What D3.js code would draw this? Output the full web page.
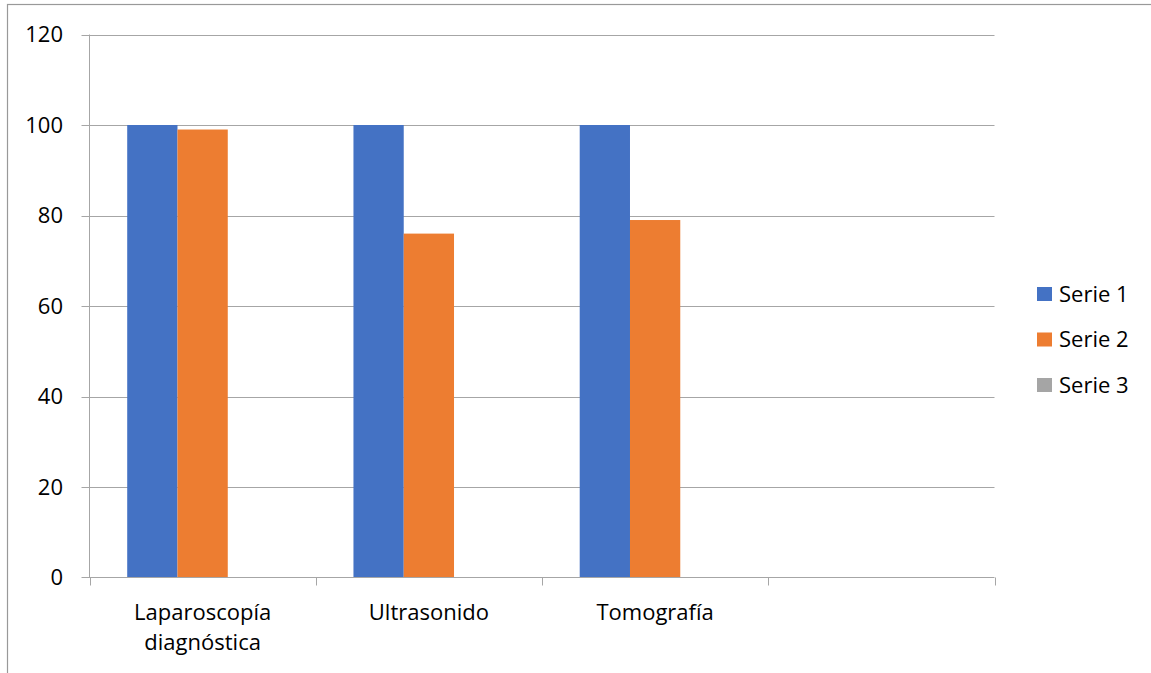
<!DOCTYPE html>
<html>
<head>
<meta charset="utf-8">
<script src="https://cdn.jsdelivr.net/npm/d3@7"></script>
<style>
  html, body { margin: 0; padding: 0; background: #fff; }
  svg { display: block; }
  text { font-family: "Open Sans", "Noto Sans", sans-serif; fill: #000; }
</style>
</head>
<body>
<svg id="chart" width="1151" height="673"></svg>
<script>
const categories = [["Laparoscopía", "diagnóstica"], ["Ultrasonido"], ["Tomografía"], [""]];
const seriesNames = ["Serie 1", "Serie 2", "Serie 3"];
const serie1 = [100, 100, 100, null];
const serie2 = [99, 76, 79, null];
const serie3 = [null, null, null, null];
const yTicks = [0, 20, 40, 60, 80, 100, 120];
const colors = ["#4472c4", "#ed7d31", "#a5a5a5"];

const svg = d3.select("#chart");
const W = 1151, H = 673;
const plotL = 89.5, plotR = 994.5, plotT = 34.5, plotB = 577.5;
const fontSize = 22;

// outer chart frame
svg.append("rect")
  .attr("x", 7.5).attr("y", 4.5)
  .attr("width", W + 10).attr("height", H + 10)
  .attr("fill", "none").attr("stroke", "#999").attr("stroke-width", 1.2);

const catIdx = categories.map((c, i) => i);
const x0 = d3.scaleBand().domain(catIdx).range([plotL, plotR]).paddingInner(0).paddingOuter(0);
const bw = x0.bandwidth() / 4.5;   // gap width 150%
const x1 = d3.scaleBand().domain(seriesNames).range([0.75 * bw, 3.75 * bw]).padding(0);
const y = d3.scaleLinear().domain([0, 120]).range([plotB, plotT]);

// gridlines
svg.append("g").selectAll("line").data(yTicks.filter(t => t > 0)).join("line")
  .attr("x1", plotL - 8).attr("x2", plotR)
  .attr("y1", d => Math.round(y(d)) + 0.5).attr("y2", d => Math.round(y(d)) + 0.5)
  .attr("stroke", "#a6a6a6").attr("stroke-width", 1);

// y axis line
svg.append("line")
  .attr("x1", plotL).attr("x2", plotL).attr("y1", plotT).attr("y2", plotB)
  .attr("stroke", "#a6a6a6");

// y tick labels
svg.append("g").selectAll("text").data(yTicks).join("text")
  .attr("x", 63).attr("y", d => y(d))
  .attr("dy", "0.36em")
  .attr("text-anchor", "end")
  .attr("font-size", fontSize)
  .text(d => d);

// bars
const seriesData = [serie1, serie2, serie3];
seriesData.forEach((vals, s) => {
  svg.append("g").selectAll("rect")
    .data(vals.map((v, i) => ({ i, v })).filter(d => d.v != null))
    .join("rect")
    .attr("x", d => x0(d.i) + x1(seriesNames[s]))
    .attr("width", x1.bandwidth())
    .attr("y", d => y(d.v))
    .attr("height", d => y(0) - y(d.v))
    .attr("fill", colors[s]);
});

// x axis line and ticks
svg.append("line")
  .attr("x1", plotL - 8).attr("x2", plotR).attr("y1", plotB).attr("y2", plotB)
  .attr("stroke", "#a6a6a6");
svg.append("g").selectAll("line").data(d3.range(categories.length + 1)).join("line")
  .attr("x1", d => Math.round(plotL + d * x0.bandwidth()) + 0.5)
  .attr("x2", d => Math.round(plotL + d * x0.bandwidth()) + 0.5)
  .attr("y1", plotB).attr("y2", plotB + 8)
  .attr("stroke", "#a6a6a6");

// category labels
const catG = svg.append("g").selectAll("text").data(catIdx).join("text")
  .attr("x", d => x0(d) + x0.bandwidth() / 2)
  .attr("y", 620)
  .attr("text-anchor", "middle")
  .attr("font-size", fontSize);
catG.selectAll("tspan").data(d => categories[d]).join("tspan")
  .attr("x", function () { return d3.select(this.parentNode).attr("x"); })
  .attr("dy", (d, i) => i === 0 ? 0 : 30)
  .text(d => d);

// legend
const lg = svg.append("g").selectAll("g").data(seriesNames).join("g")
  .attr("transform", (d, i) => `translate(1037, ${294 + i * 45.5})`);
lg.append("rect").attr("x", 0).attr("y", -7).attr("width", 15).attr("height", 14)
  .attr("fill", (d, i) => colors[i]);
lg.append("text").attr("x", 22).attr("y", 0).attr("dy", "0.36em")
  .attr("font-size", fontSize).text(d => d);
</script>
</body>
</html>
